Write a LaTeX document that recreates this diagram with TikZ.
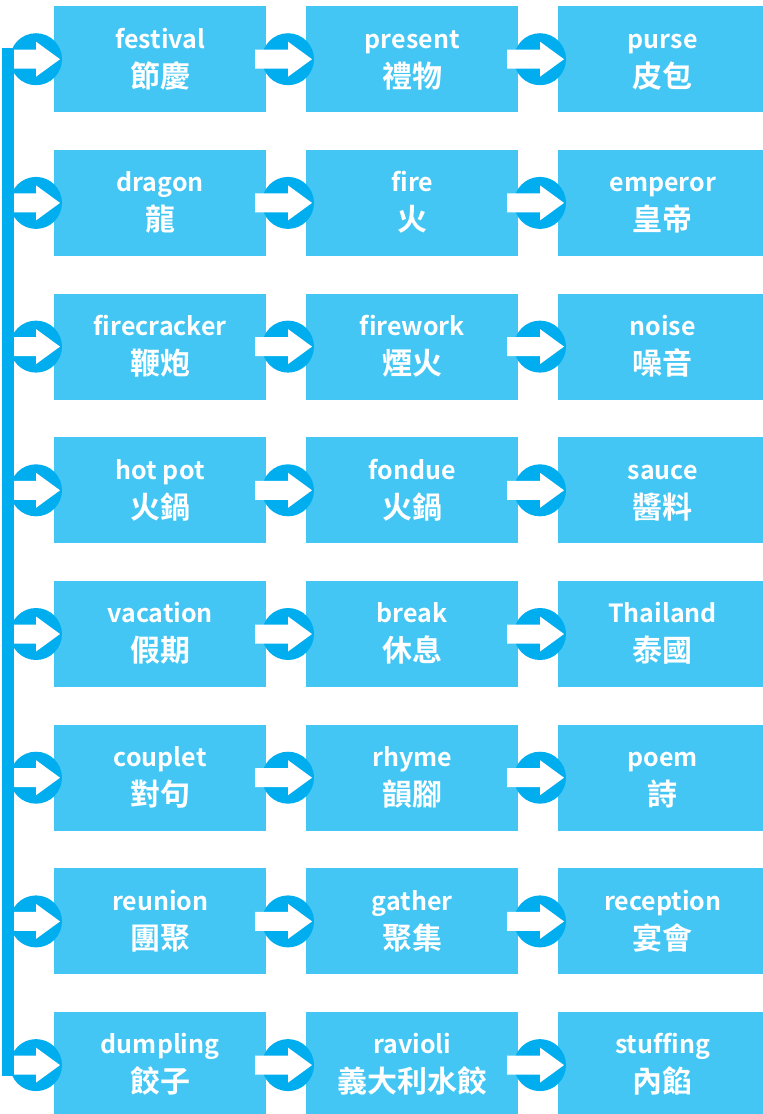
\documentclass[tikz,border=0pt]{standalone}
\usepackage{fontspec}
\setmainfont{Noto Sans CJK TC}[UprightFont=* Bold, Ligatures=CommonOff]
\usetikzlibrary{calc}
\definecolor{boxblue}{HTML}{43C6F4}
\definecolor{circblue}{HTML}{00AEEF}
\tikzset{
  cell/.style={fill=boxblue, draw=none, minimum height=106pt, inner sep=0pt, anchor=north west},
  entext/.style={text=white, anchor=base, inner sep=0pt, font=\fontsize{25}{25}\selectfont},
  zhtext/.style={text=white, anchor=base, inner sep=0pt, font=\fontsize{30}{30}\selectfont},
  pics/arr/.style={code={
    \fill[circblue] (0,0) circle (26);
    \fill[white] (#1,-9.5) -- (0,-9.5) -- (0,-17.5) -- (24,0) -- (0,17.5) -- (0,9.5) -- (#1,9.5) -- cycle;
  }}
}
\begin{document}
\begin{tikzpicture}[x=1pt,y=-1pt]
\useasboundingbox (0,0) rectangle (763,1114);
\foreach \rw/\ea/\za/\eb/\zb/\ec/\zc in {
  1/festival/節慶/present/禮物/purse/皮包,
  2/dragon/龍/fire/火/emperor/皇帝,
  3/firecracker/鞭炮/firework/煙火/noise/噪音,
  4/hot pot/火鍋/fondue/火鍋/sauce/醬料,
  5/vacation/假期/break/休息/Thailand/泰國,
  6/couplet/對句/rhyme/韻腳/poem/詩,
  7/reunion/團聚/gather/聚集/reception/宴會,
  8/dumpling/餃子/ravioli/義大利水餃/stuffing/內餡}{
  \pgfmathsetmacro\tp{6+143.7*(\rw-1)}
  \node[cell, minimum width=212pt] (b-\rw-1) at (54,\tp) {};
  \node[cell, minimum width=212pt] (b-\rw-2) at (306,\tp) {};
  \node[cell, minimum width=205pt] (b-\rw-3) at (558,\tp) {};
  \pic at ($(b-\rw-1.west)+(-18,0)$) {arr=-22};
  \pic at ($(b-\rw-2.west)+(-18,0)$) {arr=-33};
  \pic at ($(b-\rw-3.west)+(-18,0)$) {arr=-33};
  \node[entext] (e-\rw-1) at ($(b-\rw-1.north)+(0,42)$) {\ea};
  \node[zhtext] (z-\rw-1) at ($(b-\rw-1.north)+(0,81)$) {\za};
  \node[entext] (e-\rw-2) at ($(b-\rw-2.north)+(0,42)$) {\eb};
  \node[zhtext] (z-\rw-2) at ($(b-\rw-2.north)+(0,81)$) {\zb};
  \node[entext] (e-\rw-3) at ($(b-\rw-3.north)+(2,42)$) {\ec};
  \node[zhtext] (z-\rw-3) at ($(b-\rw-3.north)+(2,81)$) {\zc};
}
\fill[circblue] ($(b-1-1.west)+(-52,-11)$) rectangle ($(b-8-1.west)+(-40,11)$);
\end{tikzpicture}
\end{document}
